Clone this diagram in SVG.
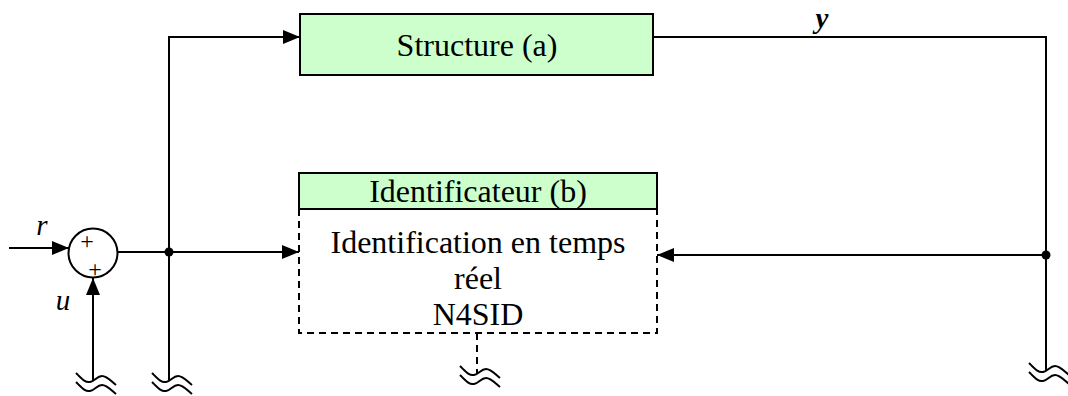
<svg xmlns="http://www.w3.org/2000/svg" xmlns:xlink="http://www.w3.org/1999/xlink" width="1068" height="396" viewBox="0 0 1068 396">
<style>
.ln{fill:none;stroke:#000;stroke-width:2}
.dash{fill:none;stroke:#000;stroke-width:2;stroke-dasharray:7,5}
.box{fill:#CCFFCC;stroke:#000;stroke-width:2}
.t{font-family:"Liberation Serif","Times New Roman",serif;font-size:32px;fill:#000}
.it{font-family:"Liberation Serif","Times New Roman",serif;font-size:29px;font-style:italic;fill:#000}
.plus{font-family:"Liberation Serif","Times New Roman",serif;font-size:24px;fill:#000}
.wig{fill:none;stroke:#000;stroke-width:2}
</style>
<defs>
<marker id="ah" markerUnits="userSpaceOnUse" markerWidth="18" markerHeight="14" refX="17" refY="7" orient="auto">
<path d="M0,0 L17,7 L0,14 z" fill="#000"/>
</marker>
<path id="wg" class="wig" d="M-17,-7 C-12,-2 -8,3 -3,2 C2,1 4,-4 9,-4 C14,-4 18,1 23,5 M-17,2 C-12,7 -8,12 -3,11 C2,10 4,5 9,5 C14,5 18,10 23,14"/>
</defs>
<g id="connectors">
<path class="ln" d="M169,380 V37 H300" marker-end="url(#ah)"/>
<path class="ln" d="M653,37 H1046 V370"/>
<path class="ln" d="M1046,255 H657" marker-end="url(#ah)"/>
<path class="ln" d="M118,252 H299" marker-end="url(#ah)"/>
<path class="ln" d="M9,248 H69" marker-end="url(#ah)"/>
<path class="ln" d="M93,380 V278" marker-end="url(#ah)"/>
<path class="dash" d="M477,333 V373"/>
<circle cx="169" cy="252" r="4.5" fill="#000"/>
<circle cx="1046" cy="255" r="4.5" fill="#000"/>
<use xlink:href="#wg" transform="translate(93,380)"/>
<use xlink:href="#wg" transform="translate(169,380)"/>
<use xlink:href="#wg" transform="translate(477,373)"/>
<use xlink:href="#wg" transform="translate(1046,370)"/>
</g>
<g id="sum">
<circle cx="93" cy="253" r="24.5" fill="#fff" stroke="#000" stroke-width="2"/>
<text class="plus" x="87" y="249" text-anchor="middle">+</text>
<text class="plus" x="95" y="277" text-anchor="middle">+</text>
</g>
<g id="structure">
<rect class="box" x="300" y="14" width="353" height="61"/>
<text class="t" x="477" y="56" text-anchor="middle">Structure (a)</text>
</g>
<g id="identificateur">
<rect class="box" x="299" y="173" width="358" height="36"/>
<text class="t" x="478" y="202" text-anchor="middle">Identificateur (b)</text>
<path class="dash" d="M299,209 V333 H657 V209"/>
<text class="t" x="478" y="253" text-anchor="middle">Identification en temps</text>
<text class="t" x="478" y="289" text-anchor="middle">réel</text>
<text class="t" x="478" y="325" text-anchor="middle">N4SID</text>
</g>
<g id="labels">
<text class="it" x="42" y="235" text-anchor="middle">r</text>
<text class="it" x="63" y="310" text-anchor="middle">u</text>
<text class="it" x="822" y="28" text-anchor="middle" font-weight="bold">y</text>
</g>
</svg>
